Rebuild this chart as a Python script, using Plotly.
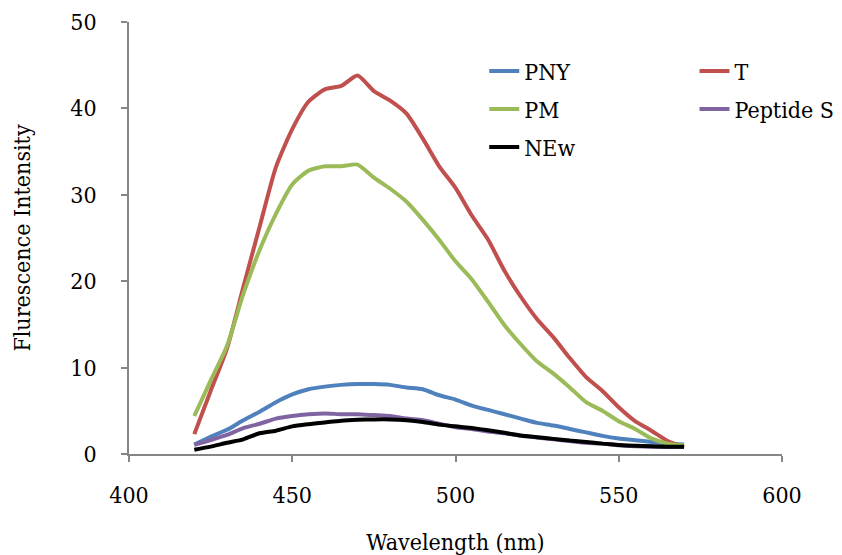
import plotly.graph_objects as go

wavelength = list(range(420, 571, 5))

pny = [1.1, 2.0, 2.8, 3.9, 4.9, 6.0, 6.9, 7.5, 7.8, 8.0, 8.1, 8.1, 8.0, 7.7, 7.5, 6.8,
       6.3, 5.6, 5.1, 4.6, 4.1, 3.6, 3.3, 2.9, 2.5, 2.1, 1.8, 1.6, 1.4, 1.2, 1.1]
t_vals = [2.3, 7.3, 12.2, 19.3, 26.3, 33.2, 37.6, 40.8, 42.2, 42.6, 43.8, 42.0, 40.9, 39.4, 36.5, 33.3,
          30.8, 27.6, 24.8, 21.2, 18.2, 15.6, 13.5, 11.1, 8.9, 7.3, 5.4, 3.8, 2.7, 1.5, 0.8]
pm = [4.4, 8.5, 12.5, 18.5, 23.6, 27.8, 31.2, 32.8, 33.3, 33.3, 33.5, 32.0, 30.7, 29.2, 27.1, 24.8,
      22.3, 20.2, 17.6, 14.9, 12.7, 10.7, 9.3, 7.7, 6.0, 5.0, 3.8, 2.9, 1.8, 1.2, 1.0]
peptide_s = [1.05, 1.6, 2.2, 3.0, 3.5, 4.1, 4.4, 4.6, 4.7, 4.6, 4.6, 4.5, 4.4, 4.1, 3.9, 3.5,
             3.1, 2.9, 2.6, 2.4, 2.1, 1.9, 1.7, 1.5, 1.3, 1.2, 1.0, 0.9, 0.85, 0.8, 0.8]
new = [0.5, 0.85, 1.3, 1.7, 2.4, 2.7, 3.2, 3.45, 3.65, 3.85, 3.95, 4.0, 4.0, 3.9, 3.7, 3.4,
       3.2, 3.0, 2.75, 2.45, 2.15, 1.95, 1.75, 1.55, 1.4, 1.2, 1.05, 0.95, 0.9, 0.85, 0.85]

series = [
    ("PNY", pny, "#4F81BD", "legend"),
    ("T", t_vals, "#C0504D", "legend2"),
    ("PM", pm, "#9BBB59", "legend"),
    ("Peptide S", peptide_s, "#8064A2", "legend2"),
    ("NEw", new, "#000000", "legend"),
]

FONT = "DejaVu Serif Condensed, DejaVu Serif"
FS = 23

fig = go.Figure()
for name, vals, color, lg in series:
    fig.add_trace(go.Scatter(x=wavelength, y=vals, mode="lines", name=name,
                             line=dict(color=color, width=4, shape="spline", smoothing=0.6),
                             legend=lg, legendgroup=name))

axis_common = dict(showline=True, linecolor="#868686", linewidth=1.5, ticks="outside",
                   tickcolor="#868686", ticklen=6, tickwidth=1.5, showgrid=False, zeroline=False,
                   tickfont=dict(family=FONT, size=FS, color="black"))

legend_common = dict(font=dict(family=FONT, size=FS, color="black"), bgcolor="rgba(0,0,0,0)",
                     xanchor="left", yanchor="top", orientation="v", itemwidth=30,
                     traceorder="grouped", tracegroupgap=5)

fig.update_layout(
    width=842, height=555,
    margin=dict(l=129, r=60, t=22, b=101, autoexpand=False),
    plot_bgcolor="white", paper_bgcolor="white",
    font=dict(family=FONT, size=FS, color="black"),
    xaxis=dict(range=[400, 600], tickvals=[400, 450, 500, 550, 600], ticklabelstandoff=14,
               title=dict(text="Wavelength (nm)", font=dict(family=FONT, size=FS), standoff=30),
               **axis_common),
    yaxis=dict(range=[0, 50], tickvals=[0, 10, 20, 30, 40, 50], ticklabelstandoff=20,
               title=dict(text="Flurescence Intensity", font=dict(family=FONT, size=FS), standoff=33),
               **axis_common),
    legend=dict(x=0.544, y=0.936, **legend_common),
    legend2=dict(x=0.866, y=0.936, **legend_common),
)

fig.write_html("out.html")
